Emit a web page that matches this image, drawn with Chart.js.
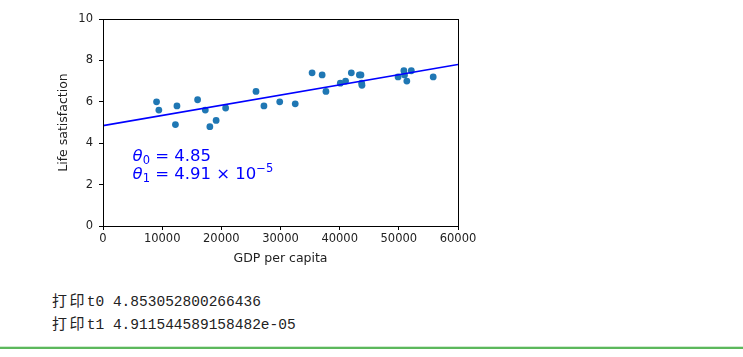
<!DOCTYPE html>
<html>
<head>
<meta charset="utf-8">
<script src="https://cdn.jsdelivr.net/npm/chart.js@4/dist/chart.umd.min.js"></script>
<style>
  body { margin: 0; background: #fff; width: 743px; height: 357px; overflow: hidden; position: relative; }
  #wrap { position: absolute; left: 0; top: 0; width: 743px; height: 270px; }
  .out { position: absolute; left: 52px; font: 14.5px 'Liberation Mono', monospace; color: #222; white-space: pre; line-height: 18px; }
  .out .cjk { font: 15px 'Noto Sans CJK SC', sans-serif; letter-spacing: 2.4px; }
  #rule1 { position: absolute; left: 0; top: 346px; width: 743px; height: 1px; background: #cfeccf; }
  #rule2 { position: absolute; left: 0; top: 347px; width: 743px; height: 2px; background: #5cb85c; }
</style>
</head>
<body>
<div id="wrap"><canvas id="chart" width="743" height="270"></canvas></div>
<div class="out" style="top:289px"><span class="cjk">打印</span>t0 4.853052800266436</div>
<div class="out" style="top:312px"><span class="cjk">打印</span>t1 4.911544589158482e-05</div>
<div id="rule1"></div>
<div id="rule2"></div>
<script>
// GDP per capita and life satisfaction
const gdpPerCapita = [9050, 9440, 12240, 12500, 15990, 17290, 18060, 19120, 20730,
    25860, 27200, 29870, 32490, 35340, 37040, 37680, 40110, 41000, 41970,
    43330, 43600, 43720, 43770, 49870, 50850, 50960, 51350, 52110, 55810];
const lifeSatisfaction = [6.0, 5.6, 4.9, 5.8, 6.1, 5.6, 4.8, 5.1, 5.7,
    6.5, 5.8, 6.0, 5.9, 7.4, 7.3, 6.5, 6.9, 7.0, 7.4,
    7.3, 7.3, 6.9, 6.8, 7.2, 7.5, 7.3, 7.0, 7.5, 7.2];

// fitted model line end points
const fitX = [0, 60000];
const fitY = [4.85, 7.80];

const xTicks = [0, 10000, 20000, 30000, 40000, 50000, 60000];
const yTicks = [0, 2, 4, 6, 8, 10];

const tickFont = { family: 'DejaVu Sans', size: 11.5 };
const labelFont = { family: 'DejaVu Sans', size: 12.5 };

// frame round the plot, like matplotlib spines
const framePlugin = {
    id: 'frame',
    afterDraw(chart) {
        const { ctx, chartArea: a } = chart;
        ctx.save();
        ctx.strokeStyle = '#000';
        ctx.lineWidth = 1;
        ctx.strokeRect(Math.round(a.left) + 0.5, Math.round(a.top) + 0.5,
            Math.round(a.right - a.left), Math.round(a.bottom - a.top));
        ctx.restore();
    }
};

// theta labels with sub/superscripts
function drawParts(ctx, x, y, parts) {
    parts.forEach(p => {
        ctx.font = p.font;
        ctx.fillText(p.text, x, y + (p.dy || 0));
        x += ctx.measureText(p.text).width;
    });
}

const thetaPlugin = {
    id: 'theta',
    afterDraw(chart) {
        const { ctx, scales } = chart;
        const x = scales.x.getPixelForValue(5000);
        const size = 16.5, small = 11.5;
        const it = `italic ${size}px "DejaVu Sans"`;
        const rg = `${size}px "DejaVu Sans"`;
        const sm = `${small}px "DejaVu Sans"`;
        ctx.save();
        ctx.fillStyle = '#0000ff';
        ctx.textBaseline = 'alphabetic';
        ctx.textAlign = 'left';
        drawParts(ctx, x, scales.y.getPixelForValue(3.15), [
            { text: 'θ', font: it },
            { text: '0', font: sm, dy: 3 },
            { text: ' = 4.85', font: rg }
        ]);
        drawParts(ctx, x, scales.y.getPixelForValue(2.25), [
            { text: 'θ', font: it },
            { text: '1', font: sm, dy: 3 },
            { text: ' = 4.91 × 10', font: rg },
            { text: '−5', font: sm, dy: -7 }
        ]);
        ctx.restore();
    }
};

const scatterData = gdpPerCapita.map((g, i) => ({ x: g, y: lifeSatisfaction[i] }));
const lineData = fitX.map((g, i) => ({ x: g, y: fitY[i] }));

new Chart(document.getElementById('chart'), {
    type: 'scatter',
    data: {
        datasets: [{
            type: 'line',
            data: lineData,
            borderColor: '#0000ff',
            borderWidth: 1.6,
            pointRadius: 0,
            fill: false
        }, {
            data: scatterData,
            backgroundColor: '#1f77b4',
            borderWidth: 0,
            pointRadius: 3.4
        }]
    },
    options: {
        responsive: false,
        animation: false,
        layout: { padding: { left: 56, top: 19, right: 285, bottom: 0 } },
        plugins: { legend: { display: false }, tooltip: { enabled: false } },
        scales: {
            x: {
                type: 'linear',
                min: 0, max: 60000,
                afterFit: s => { s.height = 44; },
                afterBuildTicks: s => { s.ticks = xTicks.map(v => ({ value: v })); },
                grid: { drawOnChartArea: false, tickLength: 4, color: '#000' },
                border: { display: false },
                ticks: { font: tickFont, color: '#222', padding: 2, maxRotation: 0, callback: v => String(v) },
                title: { display: true, text: 'GDP per capita', font: labelFont, color: '#222', padding: { top: 0, bottom: 4 } }
            },
            y: {
                type: 'linear',
                min: 0, max: 10,
                afterFit: s => { s.width = 47; },
                afterBuildTicks: s => { s.ticks = yTicks.map(v => ({ value: v })); },
                grid: { drawOnChartArea: false, tickLength: 4, color: '#000' },
                border: { display: false },
                ticks: { font: tickFont, color: '#222', padding: 6 },
                title: { display: true, text: 'Life satisfaction', font: labelFont, color: '#222', padding: { top: 0, bottom: 0 } }
            }
        }
    },
    plugins: [framePlugin, thetaPlugin]
});
</script>
</body>
</html>
